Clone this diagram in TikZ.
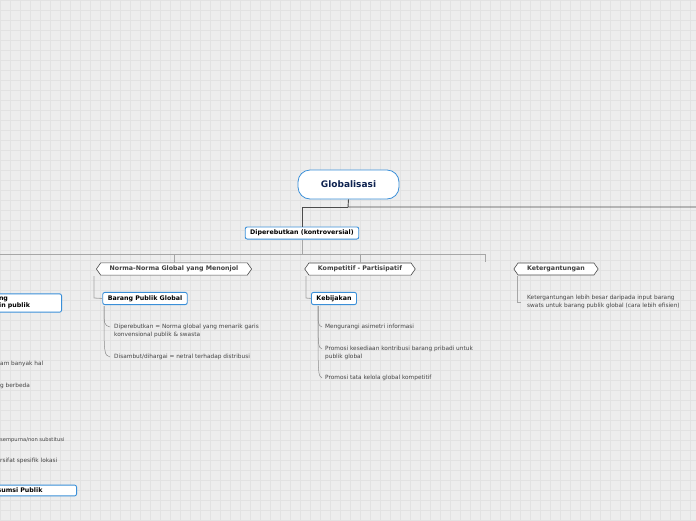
\documentclass[tikz,border=0pt]{standalone}
\usepackage{fontspec}
\setmainfont{DejaVu Sans}
\usetikzlibrary{shapes.symbols}
\definecolor{bg}{HTML}{EDEDED}
\definecolor{gridc}{HTML}{E2E2E2}
\definecolor{blueb}{HTML}{3A8FD8}
\definecolor{navy}{HTML}{0F2350}
\definecolor{txt}{HTML}{444444}
\tikzset{
 topic/.style={draw=blueb,fill=white,rounded corners=2pt,line width=0.9pt,font=\fontsize{6.3}{7.5}\selectfont\bfseries,inner xsep=5pt,inner ysep=3pt,align=left},
 hexa/.style={signal,signal to=west and east,signal pointer angle=110,draw=black!70,fill=white,line width=0.6pt,font=\fontsize{6.3}{7.5}\selectfont\bfseries,text=black!75,inner xsep=9pt,inner ysep=3pt},
 leaf/.style={font=\fontsize{5.8}{7.5}\selectfont,text=txt,anchor=west,align=left,inner sep=0pt},
 conn/.style={draw=black!70,line width=0.9pt},
 lconn/.style={draw=black!35,line width=0.8pt},
 sconn/.style={draw=black!45,line width=0.5pt}
}
\begin{document}
\begin{tikzpicture}[x=1pt,y=-1pt]
\useasboundingbox (0,0) rectangle (696,520);
\fill[bg] (0,0) rectangle (696,520);
\draw[gridc,line width=0.4pt,step=10pt] (0,0) grid (696,520);
\node[draw=blueb,fill=white,rounded corners=12pt,line width=0.8pt,minimum width=101pt,minimum height=29pt,font=\fontsize{9}{10}\selectfont\bfseries,text=navy] (glob) at (348.5,184.5) {Globalisasi};
\node[topic] (dip) at (302,233) {Diperebutkan (kontroversial)};
\coordinate (r) at (696,207);
\draw[conn] (glob.south) -- (348,207) -- (r);
\draw[conn] (348,207) -- (302,207) -- (dip.north);
\node[hexa] (norma) at (174,269) {Norma-Norma Global yang Menonjol};
\node[hexa] (komp) at (360,269) {Kompetitif - Partisipatif};
\node[hexa] (ket) at (556,269) {Ketergantungan};
\coordinate (l) at (0,254);
\draw[lconn] (dip.south) -- (302,254);
\draw[lconn] (l) -- (485,254);
\draw[lconn] (174,254) -- (norma.north);
\draw[lconn] (360,254) -- (komp.north);
\draw[lconn] (485,254) -- (485,262);
\node[topic] (bar) at (145,298.5) {Barang Publik Global};
\node[topic] (keb) at (334,298.5) {Kebijakan};
\node[topic,anchor=east,text width=88pt] (dom) at (62,303) {\hspace*{11pt}ng yang\\\hspace*{11pt}domain publik};
\node[topic,anchor=east,text width=105pt] (kon) at (77,490.5) {\hspace*{10pt}= Konsumsi Publik};
\draw[lconn] (94,276) -- (94,298) -- (bar.west);
\draw[lconn] (306,276) -- (306,298) -- (keb.west);
\node[leaf] (k1) at (527,302) {Ketergantungan lebih besar daripada input barang\\swats untuk barang publik global (cara lebih efisien)};
\draw[lconn] (517,276) -- (517,302) -- (521,302);
\node[leaf] (b1) at (114,331) {Diperebutkan = Norma global yang menarik garis\\konvensional publik \& swasta};
\node[leaf] (b2) at (114,357) {Disambut/dihargai = netral terhadap distribusi};
\draw[sconn] (104,306) .. controls (104,325) .. (110,327);
\draw[sconn] (104,306) .. controls (104,355) .. (110,357);
\node[leaf] (c1) at (325,327) {Mengurangi asimetri informasi};
\node[leaf] (c2) at (325,353) {Promosi kesediaan kontribusi barang pribadi untuk\\publik global};
\node[leaf] (c3) at (325,378) {Promosi tata kelola global kompetitif};
\draw[sconn] (318,306) .. controls (318,325) .. (322,327);
\draw[sconn] (318,306) .. controls (318,347) .. (322,349);
\draw[sconn] (318,306) .. controls (318,376) .. (322,378);
\node[leaf] at (0,364) {am banyak hal};
\node[leaf] at (0,386) {g berbeda};
\node[leaf,font=\fontsize{5.2}{6}\selectfont] at (0,440) {sempurna/non substitusi};
\node[leaf] at (0,461) {rsifat spesifik lokasi};
\end{tikzpicture}
\end{document}
